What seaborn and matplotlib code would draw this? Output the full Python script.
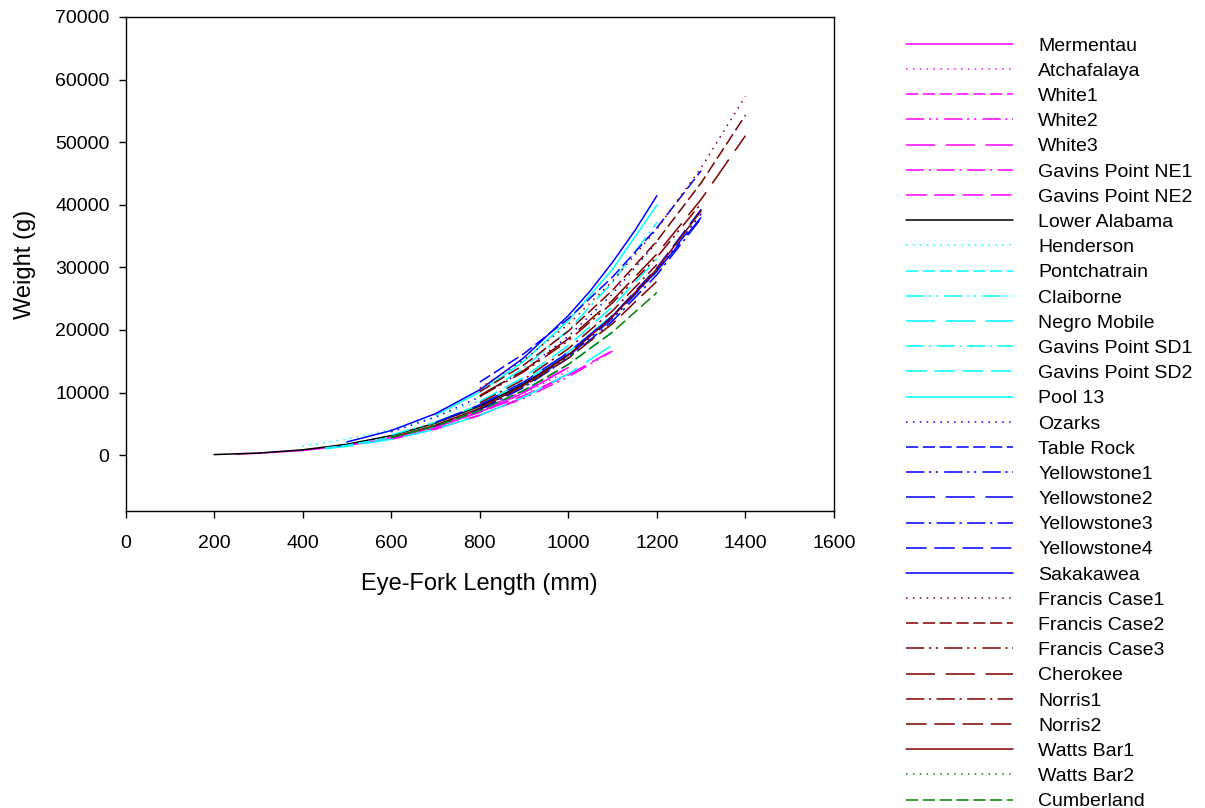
import numpy as np
import pandas as pd
import matplotlib.pyplot as plt
import seaborn as sns

# Length-weight curves (length mm, weight g)
mermentau_len = [250, 300, 400, 500, 600, 700, 800, 900, 1000]
mermentau_wt = [166, 297, 746, 1523, 2730, 4472, 6856, 9993, 14000]
atchafalaya_len = [500, 600, 700, 800, 900, 1000]
atchafalaya_wt = [1688, 2916, 4631, 6912, 9842, 13500]
white1_len = [600, 700, 800, 900, 1000]
white1_wt = [2828, 4631, 7101, 10350, 14500]
white2_len = [600, 700, 800, 900, 1000, 1100]
white2_wt = [2700, 4288, 6400, 9113, 12500, 16638]
white3_len = [600, 700, 800, 900, 1000]
white3_wt = [2535, 4152, 6366, 9279, 13000]
gavins_ne1_len = [700, 800, 900, 1000]
gavins_ne1_wt = [4802, 7168, 10206, 14000]
gavins_ne2_len = [700, 800, 900, 1000, 1100]
gavins_ne2_wt = [4714, 6853, 9530, 12800, 16714]
lower_alabama_len = [200, 300, 400, 500, 600, 700, 800, 900, 1000]
lower_alabama_wt = [93, 339, 853, 1741, 3120, 5110, 7835, 11421, 16000]
henderson_len = [400, 500, 600, 700, 800, 900, 1000]
henderson_wt = [1430, 2560, 4110, 6130, 8680, 11790, 15500]
pontchatrain_len = [450, 500, 600, 700, 800, 900, 1000, 1100]
pontchatrain_wt = [1127, 1578, 2828, 4631, 7101, 10350, 14500, 19671]
claiborne_len = [600, 700, 800, 900, 1000, 1100, 1200]
claiborne_wt = [3218, 5270, 8080, 11778, 16500, 22384, 29568]
negro_mobile_len = [450, 500, 600, 700, 800, 900, 1000, 1100]
negro_mobile_wt = [1010, 1414, 2535, 4152, 6366, 9279, 13000, 17636]
gavins_sd1_len = [800, 900, 1000, 1100, 1200]
gavins_sd1_wt = [9366, 13976, 20000, 27654, 37172]
gavins_sd2_len = [800, 900, 1000, 1100, 1200]
gavins_sd2_wt = [8570, 12492, 17500, 23741, 31360]
pool13_len = [700, 800, 900, 1000, 1100, 1200]
pool13_wt = [6394, 10068, 15024, 21500, 29728, 39960]
ozarks_len = [600, 700, 800, 900, 1000, 1100, 1200]
ozarks_wt = [3705, 6069, 9304, 13562, 19000, 25775, 34048]
table_rock_len = [800, 900, 1000, 1100, 1200, 1300]
table_rock_wt = [11670, 16230, 21800, 28470, 36320, 45450]
yellowstone1_len = [700, 800, 900, 1000, 1100, 1200, 1300]
yellowstone1_wt = [4699, 7399, 11041, 15800, 21847, 29366, 38558]
yellowstone2_len = [700, 800, 900, 1000, 1100, 1200, 1300]
yellowstone2_wt = [5238, 8031, 11706, 16400, 22248, 29389, 37976]
yellowstone3_len = [800, 900, 1000, 1100, 1200, 1300]
yellowstone3_wt = [7259, 10831, 15500, 21432, 28808, 37826]
yellowstone4_len = [800, 900, 1000, 1100, 1200, 1300]
yellowstone4_wt = [7540, 11251, 16100, 22261, 29923, 39290]
sakakawea_len = [500, 600, 700, 800, 900, 1000, 1050, 1100, 1150, 1200]
sakakawea_wt = [2112, 3927, 6632, 10443, 15583, 22300, 26290, 30834, 35840, 41447]
francis1_len = [800, 900, 1000, 1100, 1200, 1300, 1400]
francis1_wt = [10701, 15236, 20900, 27818, 36115, 45917, 57350]
francis2_len = [800, 900, 1000, 1100, 1200, 1300, 1400]
francis2_wt = [10138, 14434, 19800, 26354, 34214, 43501, 54331]
francis3_len = [800, 900, 1000, 1100, 1200, 1300]
francis3_wt = [9370, 13341, 18300, 24357, 31622, 40205]
cherokee_len = [800, 900, 1000, 1100, 1200, 1300, 1400]
cherokee_wt = [9523, 13559, 18600, 24757, 32141, 40864, 51038]
norris1_len = [800, 900, 1000, 1100, 1200]
norris1_wt = [8325, 12135, 17000, 23062, 30464]
norris2_len = [800, 900, 1000, 1100, 1200]
norris2_wt = [7590, 11064, 15500, 21027, 27776]
watts_bar1_len = [600, 700, 800, 900, 1000, 1100, 1200, 1300]
watts_bar1_wt = [2818, 4758, 7493, 11181, 16000, 22123, 29738, 39046]
watts_bar2_len = [600, 700, 800, 900, 1000, 1100]
watts_bar2_wt = [3023, 4951, 7590, 11064, 15500, 21027]
cumberland_len = [600, 700, 800, 900, 1000, 1100, 1200]
cumberland_wt = [2828, 4631, 7101, 10350, 14500, 19671, 25984]

series = [
    ("Mermentau", mermentau_len, mermentau_wt),
    ("Atchafalaya", atchafalaya_len, atchafalaya_wt),
    ("White1", white1_len, white1_wt),
    ("White2", white2_len, white2_wt),
    ("White3", white3_len, white3_wt),
    ("Gavins Point NE1", gavins_ne1_len, gavins_ne1_wt),
    ("Gavins Point NE2", gavins_ne2_len, gavins_ne2_wt),
    ("Lower Alabama", lower_alabama_len, lower_alabama_wt),
    ("Henderson", henderson_len, henderson_wt),
    ("Pontchatrain", pontchatrain_len, pontchatrain_wt),
    ("Claiborne", claiborne_len, claiborne_wt),
    ("Negro Mobile", negro_mobile_len, negro_mobile_wt),
    ("Gavins Point SD1", gavins_sd1_len, gavins_sd1_wt),
    ("Gavins Point SD2", gavins_sd2_len, gavins_sd2_wt),
    ("Pool 13", pool13_len, pool13_wt),
    ("Ozarks", ozarks_len, ozarks_wt),
    ("Table Rock", table_rock_len, table_rock_wt),
    ("Yellowstone1", yellowstone1_len, yellowstone1_wt),
    ("Yellowstone2", yellowstone2_len, yellowstone2_wt),
    ("Yellowstone3", yellowstone3_len, yellowstone3_wt),
    ("Yellowstone4", yellowstone4_len, yellowstone4_wt),
    ("Sakakawea", sakakawea_len, sakakawea_wt),
    ("Francis Case1", francis1_len, francis1_wt),
    ("Francis Case2", francis2_len, francis2_wt),
    ("Francis Case3", francis3_len, francis3_wt),
    ("Cherokee", cherokee_len, cherokee_wt),
    ("Norris1", norris1_len, norris1_wt),
    ("Norris2", norris2_len, norris2_wt),
    ("Watts Bar1", watts_bar1_len, watts_bar1_wt),
    ("Watts Bar2", watts_bar2_len, watts_bar2_wt),
    ("Cumberland", cumberland_len, cumberland_wt),
]

x_ticks = [0, 200, 400, 600, 800, 1000, 1200, 1400, 1600]
y_ticks = [0, 10000, 20000, 30000, 40000, 50000, 60000, 70000]

names = [s[0] for s in series]
rows = []
for name, lens, wts in series:
    for l, w in zip(lens, wts):
        rows.append((name, l, w))
df = pd.DataFrame(rows, columns=["series", "length", "weight"])

# colour groups and line style cycle
group_colors = ["#FF00FF"] * 7 + ["#000000"] + ["#00FFFF"] * 7 + ["#0000FF"] * 7 + ["#800000"] * 7 + ["#008000"] * 2
style_cycle = ["", (1, 3.5), (8, 3), (12, 3, 1.5, 3, 1.5, 4), (19, 7), (12, 3, 1.5, 3.5), (13.5, 5)]
# Lower Alabama restarts the cycle at solid
style_list = style_cycle + [""] + style_cycle[1:] + style_cycle * 3
style_list = style_list[:len(names)]
palette = dict(zip(names, group_colors))
dashes = dict(zip(names, style_list))

sns.set_style("ticks")
plt.rcParams['font.family'] = ['Liberation Sans', 'DejaVu Sans']
plt.rcParams['text.color'] = 'black'
plt.rcParams['axes.labelcolor'] = 'black'

fig = plt.figure(figsize=(12.05, 8.08), dpi=100)
ax = fig.add_axes([125.5 / 1205, 1 - 511.5 / 808, (834 - 125.5) / 1205, (511.5 - 17) / 808])

sns.lineplot(data=df, x="length", y="weight", hue="series", style="series",
             hue_order=names, style_order=names, palette=palette, dashes=dashes,
             sort=False, estimator=None, linewidth=1.1, ax=ax)

ax.set_xlim(0, 1600)
ax.set_ylim(-9000, 70000)
ax.set_xticks(x_ticks)
ax.set_yticks(y_ticks)
ax.tick_params(direction='out', length=5, width=1, colors='black', labelsize=14,
               top=False, right=False)
ax.tick_params(axis='x', pad=12)
ax.tick_params(axis='y', pad=6.5)
for sp in ax.spines.values():
    sp.set_color('black')
    sp.set_linewidth(1)
ax.set_xlabel("Eye-Fork Length (mm)", fontsize=17, labelpad=15, color='black')
ax.set_ylabel("Weight (g)", fontsize=17, labelpad=13.5, color='black')

handles, labels = ax.get_legend_handles_labels()
ax.legend(handles, labels, loc='upper left', bbox_to_anchor=(906 / 1205, 1 - 37 / 808),
          bbox_transform=fig.transFigure, frameon=False, fontsize=14,
          handlelength=5.5, handletextpad=1.3, labelspacing=0.39,
          borderpad=0, borderaxespad=0)

fig.savefig('out.png', dpi=100)
